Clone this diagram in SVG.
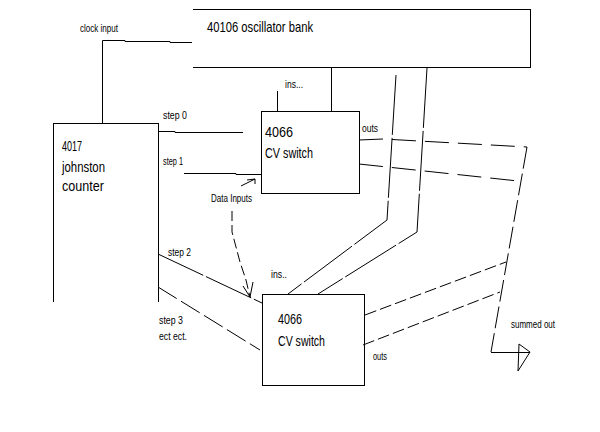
<svg xmlns="http://www.w3.org/2000/svg" width="600" height="432" viewBox="0 0 600 432">
<style>
text{font-family:"Liberation Sans",Arial,sans-serif;fill:#000}
.big{font-size:15px}
.sm{font-size:11px}
.box{fill:none;stroke:#000;stroke-width:1;shape-rendering:crispEdges}
.ln{fill:none;stroke:#000;stroke-width:1}
.d1{stroke-dasharray:24 9}
.d2{stroke-dasharray:60 3}
.d3{stroke-dasharray:22 5}
.d4{stroke-dasharray:12 4}
</style>
<rect width="600" height="432" fill="#fff"/>
<g id="osc-bank">
<path class="box" d="M192.5,9.5 H530.5 V67.5 H192.5"/>
<text class="big" x="207" y="32" textLength="106" lengthAdjust="spacingAndGlyphs">40106 oscillator bank</text>
</g>
<g id="counter">
<path class="box" d="M53.5,302 V123.5 H158.5 V302"/>
<text class="big" x="62" y="151" textLength="20" lengthAdjust="spacingAndGlyphs">4017</text>
<text class="big" x="62" y="172" textLength="43" lengthAdjust="spacingAndGlyphs">johnston</text>
<text class="big" x="62" y="191" textLength="42" lengthAdjust="spacingAndGlyphs">counter</text>
</g>
<g id="switch1">
<rect class="box" x="261.5" y="111.5" width="98" height="82"/>
<text class="big" x="265" y="137" textLength="28" lengthAdjust="spacingAndGlyphs">4066</text>
<text class="big" x="265" y="158" textLength="48" lengthAdjust="spacingAndGlyphs">CV switch</text>
</g>
<g id="switch2">
<rect class="box" x="262.5" y="294.5" width="102" height="91"/>
<text class="big" x="278" y="324" textLength="24" lengthAdjust="spacingAndGlyphs">4066</text>
<text class="big" x="278" y="346" textLength="47" lengthAdjust="spacingAndGlyphs">CV switch</text>
</g>
<g id="labels">
<text class="sm" x="80" y="32" textLength="38" lengthAdjust="spacingAndGlyphs">clock input</text>
<text class="sm" x="163" y="119" textLength="24" lengthAdjust="spacingAndGlyphs">step 0</text>
<text class="sm" x="163" y="165" textLength="20" lengthAdjust="spacingAndGlyphs">step 1</text>
<text class="sm" x="168" y="256" textLength="23" lengthAdjust="spacingAndGlyphs">step 2</text>
<text class="sm" x="159" y="324" textLength="24" lengthAdjust="spacingAndGlyphs">step 3</text>
<text class="sm" x="159" y="340" textLength="28" lengthAdjust="spacingAndGlyphs">ect ect.</text>
<text class="sm" x="285" y="88" textLength="18" lengthAdjust="spacingAndGlyphs">ins...</text>
<text class="sm" x="362" y="132" textLength="16" lengthAdjust="spacingAndGlyphs">outs</text>
<text class="sm" x="211" y="202" textLength="41" lengthAdjust="spacingAndGlyphs">Data Inputs</text>
<text class="sm" x="271" y="278" textLength="16" lengthAdjust="spacingAndGlyphs">ins..</text>
<text class="sm" x="373" y="360" textLength="14" lengthAdjust="spacingAndGlyphs">outs</text>
<text class="sm" x="511" y="328" textLength="44" lengthAdjust="spacingAndGlyphs">summed out</text>
</g>
<g id="connectors">
<path class="ln" d="M192,42.5 H170 V41.5 H125 V40.5 H102.5 V123"/>
<path class="ln" d="M158,131.5 H175 V132.5 H243"/>
<path class="ln" d="M184,173.5 H236 V174.5 H261"/>
<path class="ln" d="M277.5,91 V111"/>
<path class="ln" d="M331.5,68 V111"/>
<path class="ln d2" d="M396,75 L387,220 L288,294"/>
<path class="ln d2" d="M427,68 L417,232 L318,294"/>
<path class="ln d1" d="M359,140 L383,139 L527,147"/>
<path class="ln d1" d="M359,164 L518,181"/>
<path class="ln d3" d="M527,147 L491,352"/>
<path class="ln" d="M491,352.5 H530"/>
<path class="ln" d="M519,344 L530,352 L518,371 Z"/>
<path class="ln d4" d="M365,315 L506,262"/>
<path class="ln d4" d="M363,345 L500,292"/>
<path class="ln" d="M158,254 L262,303" stroke-dasharray="50 3"/>
<path class="ln d3" d="M158,287 L260,350"/>
<path class="ln" d="M241,186 L255,179 M247,180 L255,179 L255,184"/>
<path class="ln" d="M232,211 L232,232 L240,262 L246,280 L250,297" stroke-dasharray="10 4"/>
<path class="ln" d="M243,286 L250,297 L253,282"/>
</g>
</svg>
